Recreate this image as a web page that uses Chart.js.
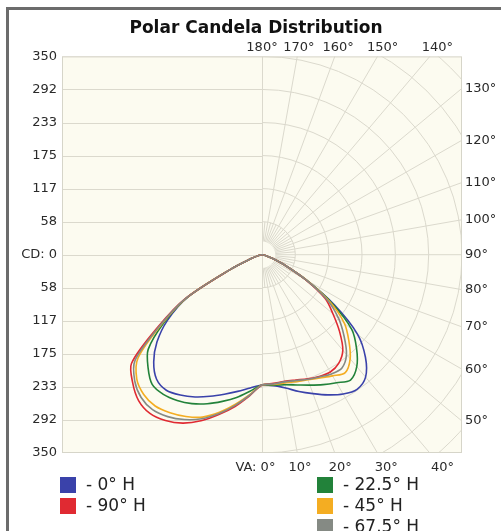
<!DOCTYPE html>
<html>
<head>
<meta charset="utf-8">
<script src="https://cdn.jsdelivr.net/npm/chart.js@4.4.1/dist/chart.umd.min.js"></script>
<style>
html, body { margin: 0; padding: 0; background: #fff; }
canvas { display: block; }
</style>
</head>
<body>
<canvas id="polar" width="501" height="531"></canvas>
<script>
// vertical angles, 0 = nadir, 90 = horizontal
const verticalAngles = [0, 5, 10, 15, 20, 25, 30, 35, 40, 45, 50, 55, 60, 65, 70, 75, 80, 85, 90];

// horizontal planes shown in the legend
const planeNames = ['0° H', '22.5° H', '45° H', '67.5° H', '90° H'];
const planeColors = ['#3a42aa', '#22823a', '#f4ad22', '#858a84', '#e02a32'];

// candela, right half of the plot
const h0Right  = [230, 232, 239, 250, 261, 273, 284, 290, 282, 256, 218, 155, 90, 45, 20, 8, 3, 1, 0];
const h22Right = [230, 231, 233, 238, 245, 253, 261, 270, 258, 234, 205, 150, 90, 45, 20, 8, 3, 1, 0];
const h45Right = [230, 230, 230, 232, 235, 240, 247, 254, 240, 215, 188, 145, 90, 45, 20, 8, 3, 1, 0];
const h67Right = [230, 229, 228, 230, 234, 238, 243, 244, 230, 203, 175, 140, 89, 45, 20, 8, 3, 1, 0];
const h90Right = [230, 228, 227, 229, 233, 237, 239, 234, 220, 192, 162, 135, 88, 45, 20, 8, 3, 1, 0];

// candela, left half of the plot
const h0Left  = [230, 236, 245, 255, 266, 277, 286, 292, 287, 268, 240, 202, 150, 60, 20, 8, 3, 1, 0];
const h22Left = [230, 242, 256, 268, 280, 290, 297, 301, 299, 282, 260, 210, 152, 60, 20, 8, 3, 1, 0];
const h45Left = [230, 248, 268, 288, 305, 315, 322, 326, 322, 310, 283, 215, 153, 60, 20, 8, 3, 1, 0];
const h67Left = [230, 249, 270, 290, 308, 321, 330, 334, 329, 315, 290, 218, 154, 60, 20, 8, 3, 1, 0];
const h90Left = [230, 250, 272, 292, 312, 328, 338, 342, 336, 320, 298, 222, 155, 60, 20, 8, 3, 1, 0];

// axis labels
const cdMax = 350;
const cdTicks = ['350', '292', '233', '175', '117', '58', 'CD: 0', '58', '117', '175', '233', '292', '350'];
const topAngles = [180, 170, 160, 150, 140];
const rightAngles = [130, 120, 110, 100, 90, 80, 70, 60, 50];
const bottomAngles = [0, 10, 20, 30, 40];

const cdStep = cdMax / 6;
const rad = d => d * Math.PI / 180;

// left half goes from 90 down to nadir, right half back up to 90
function toPoints(left, right) {
    const pts = [];
    for (let i = verticalAngles.length - 1; i >= 0; i--) {
        const a = rad(verticalAngles[i]);
        pts.push({ x: -left[i] * Math.sin(a), y: -left[i] * Math.cos(a) });
    }
    for (let i = 1; i < verticalAngles.length; i++) {
        const a = rad(verticalAngles[i]);
        pts.push({ x: right[i] * Math.sin(a), y: -right[i] * Math.cos(a) });
    }
    return pts;
}

const halves = [[h0Left, h0Right], [h22Left, h22Right], [h45Left, h45Right], [h67Left, h67Right], [h90Left, h90Right]];
const drawOrder = [4, 3, 2, 0, 1]; // gray ends up on top

const datasets = planeNames.map((name, i) => ({
    label: name,
    data: toPoints(halves[i][0], halves[i][1]),
    borderColor: planeColors[i],
    borderWidth: 1.6,
    pointRadius: 0,
    showLine: true,
    fill: false,
    tension: 0.3,
    order: drawOrder[i]
}));

const font = 'DejaVu Sans';

const polarGrid = {
    id: 'polarGrid',
    beforeDraw(chart) {
        const { ctx, width, height, chartArea: a } = chart;
        ctx.save();
        ctx.fillStyle = '#ffffff';
        ctx.fillRect(0, 0, width, height);
        ctx.fillStyle = '#6c6c6c';
        ctx.fillRect(6, 7, 3, height);
        ctx.fillRect(6, 7, width, 3);
        ctx.fillStyle = '#fcfbf0';
        ctx.fillRect(a.left, a.top, a.right - a.left, a.bottom - a.top);
        ctx.restore();
    },
    beforeDatasetsDraw(chart) {
        const { ctx, chartArea: a, scales: { x, y } } = chart;
        const cx = x.getPixelForValue(0), cy = y.getPixelForValue(0);
        const kx = x.getPixelForValue(1) - cx, ky = cy - y.getPixelForValue(1);
        ctx.save();
        ctx.beginPath();
        ctx.rect(a.left, a.top, a.right - a.left, a.bottom - a.top);
        ctx.clip();
        ctx.strokeStyle = '#dbd9cd';
        ctx.lineWidth = 1;

        // left half: plain horizontal lines
        y.ticks.forEach(t => {
            const py = Math.round(y.getPixelForValue(t.value)) + 0.5;
            ctx.beginPath(); ctx.moveTo(a.left, py); ctx.lineTo(cx, py); ctx.stroke();
        });
        ctx.beginPath();
        ctx.moveTo(Math.round(cx) + 0.5, a.top); ctx.lineTo(Math.round(cx) + 0.5, a.bottom);
        ctx.stroke();

        // right half: circles and rays
        for (let k = 1; k <= 9; k++) {
            const r = k * cdStep;
            ctx.beginPath();
            ctx.ellipse(cx, cy, r * kx, r * ky, 0, -Math.PI / 2, Math.PI / 2);
            ctx.stroke();
        }
        for (let d = 5; d < 180; d += 5) {
            const r0 = 0.4 * cdStep;
            const r1 = d % 10 === 0 ? 12 * cdStep : cdStep;
            const s = Math.sin(rad(d)), c = Math.cos(rad(d));
            ctx.beginPath();
            ctx.moveTo(cx + r0 * s * kx, cy + r0 * c * ky);
            ctx.lineTo(cx + r1 * s * kx, cy + r1 * c * ky);
            ctx.stroke();
        }
        ctx.restore();

        ctx.save();
        ctx.strokeStyle = '#d6d5c9';
        ctx.strokeRect(a.left + 0.5, a.top + 0.5, a.right - a.left - 1, a.bottom - a.top - 1);
        ctx.restore();
    },
    afterDraw(chart) {
        const { ctx, chartArea: a, scales: { x, y } } = chart;
        const cx = x.getPixelForValue(0), cy = y.getPixelForValue(0);
        const kx = x.getPixelForValue(1) - cx, ky = cy - y.getPixelForValue(1);
        ctx.save();
        ctx.font = '13px "' + font + '"';
        ctx.fillStyle = '#2a2a2a';
        ctx.textBaseline = 'middle';

        // top edge
        ctx.textAlign = 'center';
        const ty = a.top - 9;
        topAngles.forEach(d => {
            const r = (cy - ty) / ky / -Math.cos(rad(d));
            ctx.fillText(d + '°', cx + r * Math.sin(rad(d)) * kx, ty);
        });

        // right edge
        ctx.textAlign = 'left';
        rightAngles.forEach(d => {
            const r = (a.right - cx) / kx / Math.sin(rad(d));
            ctx.fillText(d + '°', a.right + 3, cy + r * Math.cos(rad(d)) * ky);
        });

        // bottom edge
        const by = a.bottom + 15;
        bottomAngles.forEach(d => {
            const r = (by - cy) / ky / Math.cos(rad(d));
            const px = cx + r * Math.sin(rad(d)) * kx;
            const txt = d + '°';
            ctx.textAlign = 'center';
            ctx.fillText(txt, px + (d === 0 ? 6 : 0), by);
            if (d === 0) {
                ctx.textAlign = 'right';
                ctx.fillText('VA: ', px + 6 - ctx.measureText(txt).width / 2, by);
            }
        });

        // legend, two columns
        const slots = [[60, 477], [317, 477], [317, 498], [317, 519], [60, 498]];
        ctx.font = '17px "' + font + '"';
        ctx.textAlign = 'left';
        chart.data.datasets.forEach((ds, i) => {
            const [lx, ly] = slots[i];
            ctx.fillStyle = ds.borderColor;
            ctx.fillRect(lx, ly, 16, 16);
            ctx.fillStyle = '#222';
            ctx.fillText('- ' + ds.label, lx + 26, ly + 9);
        });
        ctx.restore();
    }
};

new Chart(document.getElementById('polar'), {
    type: 'scatter',
    data: { datasets },
    options: {
        responsive: false,
        animation: false,
        layout: { padding: { left: 11, right: 0, top: 0, bottom: 78 } },
        plugins: {
            legend: { display: false },
            tooltip: { enabled: false },
            title: {
                display: true,
                text: 'Polar Candela Distribution',
                color: '#111',
                font: { family: font, size: 17, weight: 'bold' },
                padding: { top: 18, bottom: 18 }
            }
        },
        scales: {
            x: { type: 'linear', min: -cdMax, max: cdMax, display: false },
            y: {
                type: 'linear', min: -cdMax, max: cdMax,
                grid: { display: false, drawTicks: false },
                border: { display: false },
                afterBuildTicks: s => { s.ticks = cdTicks.map((t, i) => ({ value: -cdMax + i * cdStep })); },
                afterFit: s => { s.width = 51; },
                ticks: {
                    autoSkip: false,
                    padding: 5,
                    color: '#2a2a2a',
                    font: { family: font, size: 13 },
                    callback: (v, i) => cdTicks[i]
                }
            },
            y2: {
                type: 'linear', position: 'right', min: -cdMax, max: cdMax,
                grid: { display: false },
                border: { display: false },
                ticks: { display: false },
                afterFit: s => { s.width = 39; }
            }
        }
    },
    plugins: [polarGrid]
});
</script>
</body>
</html>
